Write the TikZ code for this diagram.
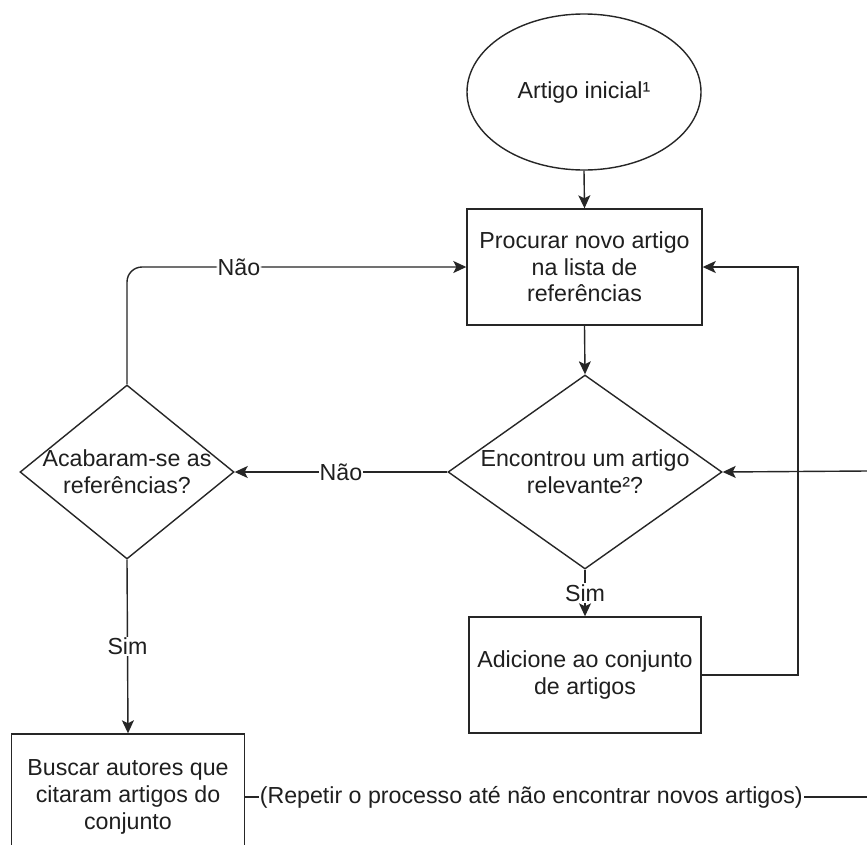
\documentclass[tikz,border=0pt]{standalone}
\usepackage{fontspec}
\setmainfont{Liberation Sans}
\usetikzlibrary{shapes.geometric,arrows.meta}
\begin{document}
\begin{tikzpicture}[x=1pt,y=-1pt,
  txt/.style={font=\fontsize{23.2}{26.7}\selectfont, text=black!88, align=center},
  box/.style={txt, draw=black!85, line width=1.4pt, minimum width=235pt, minimum height=116pt, inner sep=0pt},
  oval/.style={txt, ellipse, draw=black!85, line width=1.4pt, minimum width=234pt, minimum height=156pt, inner sep=0pt},
  dia/.style={diamond, draw=black!85, line width=1.4pt, inner sep=0pt},
  lbl/.style={txt, fill=white, inner sep=1pt},
  conn/.style={draw=black!85, line width=1.4pt},
  arr/.style={conn, -{Stealth[length=13pt,width=12pt,inset=3pt]}}
]
\useasboundingbox (0,0) rectangle (867,844);
\fill[white] (0,0) rectangle (867,844);
\clip (0,0) rectangle (867,844);

% nodes
\node[oval] (start) at (584,92) {Artigo inicial¹};
\node[box] (procurar) at (584.5,267) {Procurar novo artigo\\na lista de\\referências};
\node[dia, minimum width=274pt, minimum height=194pt] (encontrou) at (585,472) {};
\node[txt] (encontrout) at (585,472) {Encontrou um artigo\\relevante²?};
\node[box, minimum width=232pt] (adicione) at (585,675) {Adicione ao conjunto\\de artigos};
\node[dia, minimum width=214pt, minimum height=174pt] (acabaram) at (127,472) {};
\node[txt] (acabarant) at (127,472) {Acabaram-se as\\referências?};
\node[box, minimum width=233pt, minimum height=126pt] (buscar) at (128,797) {Buscar autores que\\citaram artigos do\\conjunto};
\coordinate (rin) at (867,471);
\coordinate (rout) at (867,797);
\coordinate (loopx) at (798,0);

% connectors
\draw[arr] (start.south) -- (procurar.north);
\draw[arr] (procurar.south) -- (encontrou.north);
\draw[arr] (encontrou.south) -- node[lbl, pos=0.5] {Sim} (adicione.north);
\draw[arr] (adicione.east) -- (loopx |- adicione.east) -- (loopx |- procurar.east) -- (procurar.east);
\draw[arr] (rin) -- (encontrou.east);
\draw[arr] (encontrou.west) -- node[lbl, pos=0.5] {Não} (acabaram.east);
\draw[arr, rounded corners=15pt] (acabaram.north) -- (acabaram.north |- procurar.west) -- node[lbl, pos=0.33] {Não} (procurar.west);
\draw[arr] (acabaram.south) -- node[lbl, pos=0.5] {Sim} (buscar.north);
\draw[conn] (buscar.east) -- node[lbl, pos=0.46] {(Repetir o processo até não encontrar novos artigos)} (rout);
\end{tikzpicture}
\end{document}
